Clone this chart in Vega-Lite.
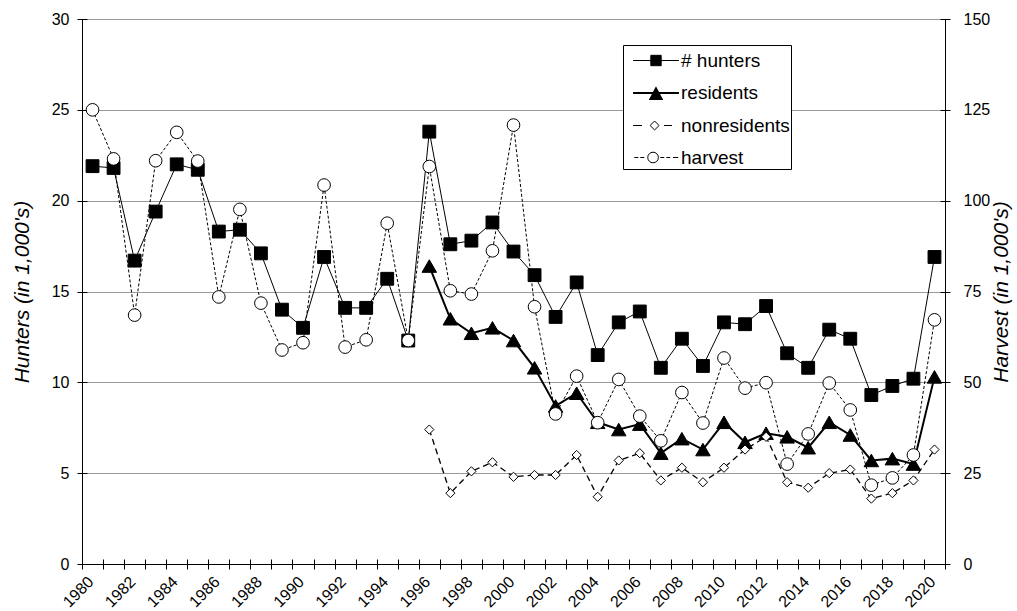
{
  "$schema": "https://vega.github.io/schema/vega-lite/v6.json",
  "width": 863,
  "height": 545,
  "autosize": "none",
  "padding": {"left": 82, "top": 19, "right": 72, "bottom": 47},
  "background": "white",
  "config": {
    "view": {"stroke": null},
    "font": "Liberation Sans",
    "axis": {"labelFontSize": 16, "labelColor": "black", "domainColor": "black", "tickColor": "black", "titleColor": "black", "labelFont": "Liberation Sans", "titleFont": "Liberation Sans"}
  },
  "datasets": {
    "hunt": [
      {"year": 1980, "series": "# hunters", "value": 21.9},
      {"year": 1981, "series": "# hunters", "value": 21.8},
      {"year": 1982, "series": "# hunters", "value": 16.7},
      {"year": 1983, "series": "# hunters", "value": 19.4},
      {"year": 1984, "series": "# hunters", "value": 22.0},
      {"year": 1985, "series": "# hunters", "value": 21.7},
      {"year": 1986, "series": "# hunters", "value": 18.3},
      {"year": 1987, "series": "# hunters", "value": 18.4},
      {"year": 1988, "series": "# hunters", "value": 17.1},
      {"year": 1989, "series": "# hunters", "value": 14.0},
      {"year": 1990, "series": "# hunters", "value": 13.0},
      {"year": 1991, "series": "# hunters", "value": 16.9},
      {"year": 1992, "series": "# hunters", "value": 14.1},
      {"year": 1993, "series": "# hunters", "value": 14.1},
      {"year": 1994, "series": "# hunters", "value": 15.7},
      {"year": 1995, "series": "# hunters", "value": 12.3},
      {"year": 1996, "series": "# hunters", "value": 23.8},
      {"year": 1997, "series": "# hunters", "value": 17.6},
      {"year": 1998, "series": "# hunters", "value": 17.8},
      {"year": 1999, "series": "# hunters", "value": 18.8},
      {"year": 2000, "series": "# hunters", "value": 17.2},
      {"year": 2001, "series": "# hunters", "value": 15.9},
      {"year": 2002, "series": "# hunters", "value": 13.6},
      {"year": 2003, "series": "# hunters", "value": 15.5},
      {"year": 2004, "series": "# hunters", "value": 11.5},
      {"year": 2005, "series": "# hunters", "value": 13.3},
      {"year": 2006, "series": "# hunters", "value": 13.9},
      {"year": 2007, "series": "# hunters", "value": 10.8},
      {"year": 2008, "series": "# hunters", "value": 12.4},
      {"year": 2009, "series": "# hunters", "value": 10.9},
      {"year": 2010, "series": "# hunters", "value": 13.3},
      {"year": 2011, "series": "# hunters", "value": 13.2},
      {"year": 2012, "series": "# hunters", "value": 14.2},
      {"year": 2013, "series": "# hunters", "value": 11.6},
      {"year": 2014, "series": "# hunters", "value": 10.8},
      {"year": 2015, "series": "# hunters", "value": 12.9},
      {"year": 2016, "series": "# hunters", "value": 12.4},
      {"year": 2017, "series": "# hunters", "value": 9.3},
      {"year": 2018, "series": "# hunters", "value": 9.8},
      {"year": 2019, "series": "# hunters", "value": 10.2},
      {"year": 2020, "series": "# hunters", "value": 16.9},
      {"year": 1996, "series": "residents", "value": 16.4},
      {"year": 1997, "series": "residents", "value": 13.5},
      {"year": 1998, "series": "residents", "value": 12.7},
      {"year": 1999, "series": "residents", "value": 13.0},
      {"year": 2000, "series": "residents", "value": 12.3},
      {"year": 2001, "series": "residents", "value": 10.8},
      {"year": 2002, "series": "residents", "value": 8.7},
      {"year": 2003, "series": "residents", "value": 9.4},
      {"year": 2004, "series": "residents", "value": 7.8},
      {"year": 2005, "series": "residents", "value": 7.4},
      {"year": 2006, "series": "residents", "value": 7.7},
      {"year": 2007, "series": "residents", "value": 6.1},
      {"year": 2008, "series": "residents", "value": 6.9},
      {"year": 2009, "series": "residents", "value": 6.3},
      {"year": 2010, "series": "residents", "value": 7.8},
      {"year": 2011, "series": "residents", "value": 6.7},
      {"year": 2012, "series": "residents", "value": 7.2},
      {"year": 2013, "series": "residents", "value": 7.0},
      {"year": 2014, "series": "residents", "value": 6.4},
      {"year": 2015, "series": "residents", "value": 7.8},
      {"year": 2016, "series": "residents", "value": 7.1},
      {"year": 2017, "series": "residents", "value": 5.7},
      {"year": 2018, "series": "residents", "value": 5.8},
      {"year": 2019, "series": "residents", "value": 5.5},
      {"year": 2020, "series": "residents", "value": 10.3},
      {"year": 1996, "series": "nonresidents", "value": 7.4},
      {"year": 1997, "series": "nonresidents", "value": 3.9},
      {"year": 1998, "series": "nonresidents", "value": 5.1},
      {"year": 1999, "series": "nonresidents", "value": 5.6},
      {"year": 2000, "series": "nonresidents", "value": 4.8},
      {"year": 2001, "series": "nonresidents", "value": 4.9},
      {"year": 2002, "series": "nonresidents", "value": 4.9},
      {"year": 2003, "series": "nonresidents", "value": 6.0},
      {"year": 2004, "series": "nonresidents", "value": 3.7},
      {"year": 2005, "series": "nonresidents", "value": 5.7},
      {"year": 2006, "series": "nonresidents", "value": 6.1},
      {"year": 2007, "series": "nonresidents", "value": 4.6},
      {"year": 2008, "series": "nonresidents", "value": 5.3},
      {"year": 2009, "series": "nonresidents", "value": 4.5},
      {"year": 2010, "series": "nonresidents", "value": 5.3},
      {"year": 2011, "series": "nonresidents", "value": 6.3},
      {"year": 2012, "series": "nonresidents", "value": 7.0},
      {"year": 2013, "series": "nonresidents", "value": 4.5},
      {"year": 2014, "series": "nonresidents", "value": 4.2},
      {"year": 2015, "series": "nonresidents", "value": 5.0},
      {"year": 2016, "series": "nonresidents", "value": 5.2},
      {"year": 2017, "series": "nonresidents", "value": 3.6},
      {"year": 2018, "series": "nonresidents", "value": 3.9},
      {"year": 2019, "series": "nonresidents", "value": 4.6},
      {"year": 2020, "series": "nonresidents", "value": 6.3}
    ],
    "harvest": [
      {"year": 1980, "series": "harvest", "value": 125.0},
      {"year": 1981, "series": "harvest", "value": 111.5},
      {"year": 1982, "series": "harvest", "value": 68.5},
      {"year": 1983, "series": "harvest", "value": 111.0},
      {"year": 1984, "series": "harvest", "value": 118.8},
      {"year": 1985, "series": "harvest", "value": 110.9},
      {"year": 1986, "series": "harvest", "value": 73.5},
      {"year": 1987, "series": "harvest", "value": 97.6},
      {"year": 1988, "series": "harvest", "value": 71.8},
      {"year": 1989, "series": "harvest", "value": 58.9},
      {"year": 1990, "series": "harvest", "value": 60.9},
      {"year": 1991, "series": "harvest", "value": 104.3},
      {"year": 1992, "series": "harvest", "value": 59.7},
      {"year": 1993, "series": "harvest", "value": 61.7},
      {"year": 1994, "series": "harvest", "value": 93.8},
      {"year": 1995, "series": "harvest", "value": 61.5},
      {"year": 1996, "series": "harvest", "value": 109.4},
      {"year": 1997, "series": "harvest", "value": 75.2},
      {"year": 1998, "series": "harvest", "value": 74.3},
      {"year": 1999, "series": "harvest", "value": 86.2},
      {"year": 2000, "series": "harvest", "value": 120.8},
      {"year": 2001, "series": "harvest", "value": 70.8},
      {"year": 2002, "series": "harvest", "value": 41.3},
      {"year": 2003, "series": "harvest", "value": 51.7},
      {"year": 2004, "series": "harvest", "value": 38.9},
      {"year": 2005, "series": "harvest", "value": 50.8},
      {"year": 2006, "series": "harvest", "value": 40.7},
      {"year": 2007, "series": "harvest", "value": 33.9},
      {"year": 2008, "series": "harvest", "value": 47.2},
      {"year": 2009, "series": "harvest", "value": 38.8},
      {"year": 2010, "series": "harvest", "value": 56.7},
      {"year": 2011, "series": "harvest", "value": 48.4},
      {"year": 2012, "series": "harvest", "value": 49.9},
      {"year": 2013, "series": "harvest", "value": 27.5},
      {"year": 2014, "series": "harvest", "value": 35.8},
      {"year": 2015, "series": "harvest", "value": 49.8},
      {"year": 2016, "series": "harvest", "value": 42.4},
      {"year": 2017, "series": "harvest", "value": 21.7},
      {"year": 2018, "series": "harvest", "value": 23.7},
      {"year": 2019, "series": "harvest", "value": 30.0},
      {"year": 2020, "series": "harvest", "value": 67.2}
    ]
  },
  "layer": [
    {
      "data": {"name": "hunt"},
      "resolve": {"axis": {"x": "independent", "y": "independent"}},
      "layer": [
        {
          "transform": [{"filter": "datum.series === '# hunters'"}],
          "mark": {"type": "line", "color": "black", "strokeWidth": 1},
          "encoding": {
            "x": {"field": "year", "type": "quantitative",
              "scale": {"domain": [1979.5, 2020.5], "nice": false, "zero": false},
              "axis": {"values": [1979.5,1980.5,1981.5,1982.5,1983.5,1984.5,1985.5,1986.5,1987.5,1988.5,1989.5,1990.5,1991.5,1992.5,1993.5,1994.5,1995.5,1996.5,1997.5,1998.5,1999.5,2000.5,2001.5,2002.5,2003.5,2004.5,2005.5,2006.5,2007.5,2008.5,2009.5,2010.5,2011.5,2012.5,2013.5,2014.5,2015.5,2016.5,2017.5,2018.5,2019.5,2020.5],
                "labels": false, "domain": false, "grid": false, "ticks": true, "tickSize": 10, "offset": -5, "title": null, "orient": "bottom"}},
            "y": {"field": "value", "type": "quantitative",
              "scale": {"domain": [0, 30], "nice": false},
              "axis": {"values": [0,5,10,15,20,25,30], "labels": false, "domain": false, "grid": false, "ticks": true, "tickSize": 10, "offset": -5, "title": null, "orient": "left"}}
          }
        },
        {
          "transform": [{"filter": "datum.series === 'residents'"}],
          "mark": {"type": "line", "color": "black", "strokeWidth": 2},
          "encoding": {
            "x": {"field": "year", "type": "quantitative", "axis": null},
            "y": {"field": "value", "type": "quantitative", "axis": null}
          }
        },
        {
          "transform": [{"filter": "datum.series === 'nonresidents'"}],
          "mark": {"type": "line", "color": "black", "strokeWidth": 1.3, "strokeDash": [6, 4]},
          "encoding": {
            "x": {"field": "year", "type": "quantitative", "axis": null},
            "y": {"field": "value", "type": "quantitative", "axis": null}
          }
        },
        {
          "transform": [{"filter": "datum.series === '# hunters'"}],
          "mark": {"type": "point", "shape": "square", "filled": true, "fill": "black", "stroke": "black", "strokeWidth": 1, "opacity": 1, "size": 165},
          "encoding": {
            "x": {"field": "year", "type": "quantitative", "axis": null},
            "y": {"field": "value", "type": "quantitative", "axis": null}
          }
        },
        {
          "transform": [{"filter": "datum.series === 'residents'"}],
          "mark": {"type": "point", "shape": "triangle-up", "filled": true, "fill": "black", "stroke": "black", "strokeWidth": 1, "opacity": 1, "size": 210},
          "encoding": {
            "x": {"field": "year", "type": "quantitative", "axis": null},
            "y": {"field": "value", "type": "quantitative", "axis": null}
          }
        },
        {
          "transform": [{"filter": "datum.series === 'nonresidents'"}],
          "mark": {"type": "point", "shape": "diamond", "filled": true, "fill": "white", "stroke": "black", "strokeWidth": 1, "opacity": 1, "size": 85},
          "encoding": {
            "x": {"field": "year", "type": "quantitative", "axis": null},
            "y": {"field": "value", "type": "quantitative", "axis": null}
          }
        },
        {
          "mark": {"type": "point", "filled": true, "stroke": "black", "opacity": 0},
          "encoding": {
            "x": {"field": "year", "type": "quantitative",
              "axis": {"values": [1980,1982,1984,1986,1988,1990,1992,1994,1996,1998,2000,2002,2004,2006,2008,2010,2012,2014,2016,2018,2020],
                "format": "d", "labelAngle": -45, "labelAlign": "right", "labelBaseline": "middle", "labelPadding": 15, "labelOffset": -2, "labelFontSize": 16,
                "ticks": false, "domain": true, "grid": false, "title": null, "orient": "bottom"}},
            "y": {"field": "value", "type": "quantitative",
              "axis": {"values": [0,5,10,15,20,25,30], "ticks": false, "domain": true, "grid": true, "gridColor": "#999999", "gridOpacity": 1, "labelPadding": 13,
                "title": "Hunters (in 1,000's)", "titleFontSize": 21, "titleFontStyle": "italic", "titleFontWeight": "normal", "titleX": -50, "orient": "left"}},
            "shape": {"field": "series", "type": "nominal",
              "scale": {"domain": ["# hunters", "residents", "nonresidents", "harvest"],
                "range": [
                  "M-1.64,0H1.64M-0.37,-0.37H0.37V0.37H-0.37Z",
                  "M-1.64,0H1.64M0,-0.33L0.4,0.43H-0.4Z",
                  "M-1.64,0H-1.0M-0.42,0L-0.1,-0.32L0.22,0L-0.1,0.32ZM0.57,0H1.14",
                  "M-1.55,0H-1.26M-1.12,0H-0.84M-0.59,0A0.38,0.38 0 1,1 0.17,0A0.38,0.38 0 1,1 -0.59,0ZM0.31,0H0.59M0.74,0H1.02M1.21,0H1.59"
                ]},
              "legend": {
                "title": null, "orient": "none", "legendX": 541, "legendY": 26,
                "strokeColor": "black", "fillColor": "white", "padding": 1,
                "symbolSize": 784, "symbolOffset": 17, "rowPadding": 7,
                "labelFontSize": 19, "labelColor": "black", "labelFont": "Liberation Sans", "labelOffset": 10,
                "labelExpr": "datum.label + '\u00a0'",
                "symbolFillColor": "black", "symbolStrokeColor": "black", "symbolOpacity": 1
              }},
            "fill": {"field": "series", "type": "nominal",
              "scale": {"domain": ["# hunters", "residents", "nonresidents", "harvest"], "range": ["black", "black", "white", "white"]}},
            "strokeWidth": {"field": "series", "type": "nominal",
              "scale": {"type": "ordinal", "domain": ["# hunters", "residents", "nonresidents", "harvest"], "range": [1, 2, 1, 1]}}
          }
        }
      ]
    },
    {
      "data": {"name": "harvest"},
      "resolve": {"axis": {"y": "independent"}},
      "layer": [
        {
          "mark": {"type": "line", "color": "black", "strokeWidth": 1, "strokeDash": [3, 2]},
          "encoding": {
            "x": {"field": "year", "type": "quantitative", "axis": null},
            "y": {"field": "value", "type": "quantitative",
              "scale": {"domain": [0, 150], "nice": false},
              "axis": {"values": [0,25,50,75,100,125,150], "labels": false, "domain": false, "grid": false, "ticks": true, "tickSize": 10, "offset": -5, "title": null, "orient": "right"}}
          }
        },
        {
          "mark": {"type": "point", "shape": "circle", "filled": true, "fill": "white", "stroke": "black", "strokeWidth": 1, "opacity": 1, "size": 160},
          "encoding": {
            "x": {"field": "year", "type": "quantitative", "axis": null},
            "y": {"field": "value", "type": "quantitative",
              "axis": {"values": [0,25,50,75,100,125,150], "ticks": false, "domain": true, "grid": false, "labelPadding": 18,
                "title": "Harvest (in 1,000's)", "titleFontSize": 21, "titleFontStyle": "italic", "titleFontWeight": "normal", "titleAngle": 270, "titleX": 66, "orient": "right"}}
          }
        }
      ]
    }
  ],
  "resolve": {"scale": {"y": "independent"}, "axis": {"x": "independent", "y": "independent"}}
}
